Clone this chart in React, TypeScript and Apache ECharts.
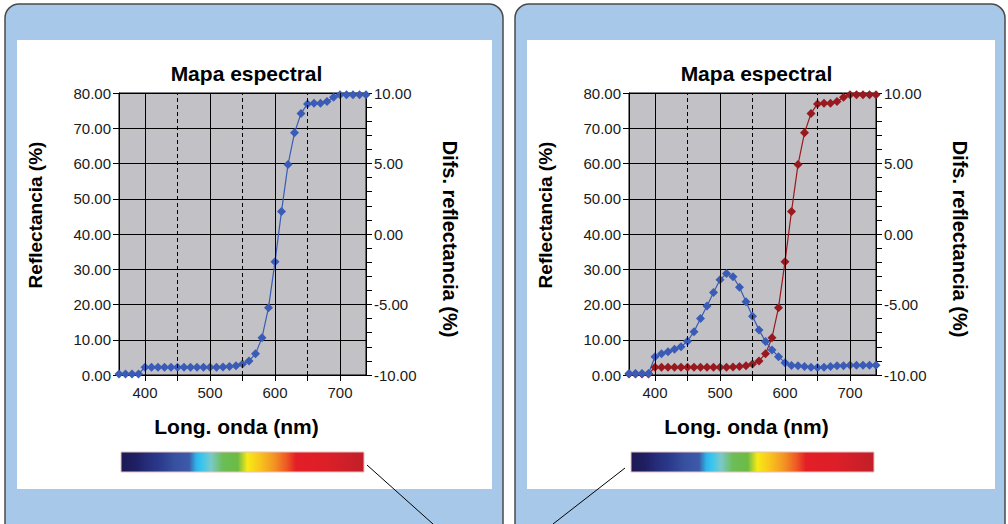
import React, { useEffect, useRef } from "react";
import * as echarts from "echarts";

const WAVELENGTHS = [360, 370, 380, 390, 400, 410, 420, 430, 440, 450, 460, 470, 480, 490, 500, 510, 520, 530, 540, 550, 560, 570, 580, 590, 600, 610, 620, 630, 640, 650, 660, 670, 680, 690, 700, 710, 720, 730, 740];
const REFERENCE = [0.3, 0.3, 0.3, 0.3, 2.2, 2.2, 2.2, 2.2, 2.2, 2.2, 2.2, 2.2, 2.2, 2.2, 2.2, 2.2, 2.3, 2.4, 2.6, 3.1, 4.0, 6.0, 10.6, 19.1, 32.1, 46.4, 59.7, 68.7, 74.2, 76.9, 77.1, 77.1, 77.6, 78.8, 79.5, 79.5, 79.5, 79.5, 79.5];
const SAMPLE = [0.4, 0.4, 0.4, 0.4, 5.2, 6.0, 6.6, 7.3, 8.0, 9.6, 12.3, 16.0, 19.6, 23.4, 27.0, 28.8, 27.9, 24.9, 20.8, 16.7, 12.8, 9.5, 7.1, 5.2, 3.5, 2.7, 2.6, 2.4, 2.2, 2.1, 2.2, 2.4, 2.6, 2.6, 2.8, 2.8, 2.8, 2.8, 2.8];
const X_TICKS = [400, 450, 500, 550, 600, 650, 700];
const X_LABELS = [400, 500, 600, 700];
const SOLID_GRID_X = [400, 500, 600, 700];
const DASHED_GRID_X = [450, 550, 650];

const TITLE = "Mapa espectral";
const X_NAME = "Long. onda (nm)";
const Y_NAME = "Reflectancia (%)";
const Y2_NAME = "Difs. reflectancia (%)";

const FONT = "'Liberation Sans', Arial, Helvetica, sans-serif";
const BLUE = "#3a5cb6";
const RED = "#981a1e";

const GRIDS = [
  { left: 119, top: 93, width: 247, height: 282 },
  { left: 629, top: 93, width: 247, height: 282 },
];

const SPECTRUM = [
  [0.0, "#1b1a55"], [0.06, "#1f1f62"], [0.1, "#252b78"], [0.16, "#2b3a8c"],
  [0.22, "#37509f"], [0.28, "#3d5aa8"], [0.31, "#2fb4e8"], [0.33, "#35c5ef"],
  [0.37, "#7ac9c9"], [0.42, "#6cbd55"], [0.48, "#6bbb45"], [0.52, "#f7ea15"],
  [0.57, "#f8c61c"], [0.63, "#f39424"], [0.68, "#ee5a24"], [0.72, "#e41e26"],
  [0.85, "#dc1f28"], [1.0, "#c11f2a"],
];

function pairs(values: number[]) {
  return WAVELENGTHS.map((w, i) => [w, values[i]]);
}

export default function App() {
  const ref = useRef<HTMLDivElement>(null);
  useEffect(() => {
    if (!ref.current) return;
    const chart = echarts.init(ref.current, null, { renderer: "svg" });
    const labelStyle = { fontSize: 15, color: "#1a1a1a", fontFamily: FONT };
    const xAxes = GRIDS.map((_, gi) => ({
      gridIndex: gi,
      type: "value",
      min: 360,
      max: 740,
      axisLine: { show: true, onZero: false, lineStyle: { color: "#000", width: 1 } },
      axisTick: { show: true, length: 6, customValues: X_TICKS, lineStyle: { color: "#000" } },
      axisLabel: { ...labelStyle, margin: 10, customValues: X_LABELS },
      splitLine: { show: false },
    }));
    const yAxes: any[] = [];
    GRIDS.forEach((_, gi) => {
      yAxes.push({
        gridIndex: gi,
        type: "value",
        position: "left",
        min: 0,
        max: 80,
        interval: 10,
        axisLine: { show: true, lineStyle: { color: "#000" } },
        axisTick: { show: true, length: 6, lineStyle: { color: "#000" } },
        axisLabel: { ...labelStyle, margin: 8, formatter: (v: number) => v.toFixed(2) },
        splitLine: { show: true, lineStyle: { color: "#000", width: 1 } },
      });
      yAxes.push({
        gridIndex: gi,
        type: "value",
        position: "right",
        min: -10,
        max: 10,
        interval: 1,
        axisLine: { show: true, lineStyle: { color: "#000" } },
        axisTick: { show: true, length: 6, lineStyle: { color: "#000" } },
        axisLabel: {
          ...labelStyle,
          margin: 8,
          interval: 0,
          formatter: (v: number) => (Math.round(v) % 5 === 0 ? v.toFixed(2) : ""),
        },
        splitLine: { show: false },
      });
    });

    const gridLineSeries = (gi: number) => ({
      type: "line",
      xAxisIndex: gi,
      yAxisIndex: gi * 2,
      data: [],
      z: 1,
      silent: true,
      markLine: {
        silent: true,
        symbol: "none",
        animation: false,
        label: { show: false },
        data: [
          ...DASHED_GRID_X.map((x) => ({ xAxis: x, lineStyle: { color: "#000", width: 1, type: [4, 3] } })),
          ...SOLID_GRID_X.map((x) => ({ xAxis: x, lineStyle: { color: "#000", width: 1, type: "solid" } })),
        ],
      },
    });

    const lineSeries = (gi: number, values: number[], color: string, name: string) => ({
      name,
      type: "line",
      xAxisIndex: gi,
      yAxisIndex: gi * 2,
      data: pairs(values),
      symbol: "diamond",
      symbolSize: 9,
      z: 3,
      lineStyle: { color, width: 1.2 },
      itemStyle: { color },
    });

    const graphics: any[] = [];
    graphics.push({ type: "rect", z: -20, shape: { x: 5, y: 4, width: 498, height: 545, r: 14 }, style: { fill: "#a8c8e9", stroke: "#4a4a4a", lineWidth: 1.5 } });
    graphics.push({ type: "rect", z: -20, shape: { x: 515, y: 4, width: 490, height: 545, r: 14 }, style: { fill: "#a8c8e9", stroke: "#4a4a4a", lineWidth: 1.5 } });
    graphics.push({ type: "rect", z: -19, shape: { x: 17, y: 40, width: 475, height: 449 }, style: { fill: "#ffffff" } });
    graphics.push({ type: "rect", z: -19, shape: { x: 527, y: 40, width: 468, height: 449 }, style: { fill: "#ffffff" } });
    GRIDS.forEach((g) => {
      graphics.push({
        type: "rect",
        z: 5,
        shape: { x: g.left + 2, y: 452, width: g.width - 4, height: 20 },
        style: {
          fill: new echarts.graphic.LinearGradient(0, 0, 1, 0, SPECTRUM.map(([o, c]) => ({ offset: o as number, color: c as string }))),
          stroke: "#e6c2c2",
          lineWidth: 1,
        },
      });
      graphics.push({
        type: "text", z: 5, x: g.left - 84, y: 215, rotation: Math.PI / 2,
        style: { text: Y_NAME, font: `bold 19px ${FONT}`, fill: "#000", textAlign: "center", textVerticalAlign: "middle" },
      });
      graphics.push({
        type: "text", z: 5, x: g.left + g.width + 84, y: 239, rotation: -Math.PI / 2,
        style: { text: Y2_NAME, font: `bold 20px ${FONT}`, fill: "#000", textAlign: "center", textVerticalAlign: "middle" },
      });
      graphics.push({
        type: "text", z: 5, x: g.left + g.width / 2 - 6, y: 426,
        style: { text: X_NAME, font: `bold 21px ${FONT}`, fill: "#000", textAlign: "center", textVerticalAlign: "middle" },
      });
    });
    graphics.push({ type: "line", z: 6, shape: { x1: 367, y1: 465, x2: 433, y2: 524 }, style: { stroke: "#000", lineWidth: 1 } });
    graphics.push({ type: "line", z: 6, shape: { x1: 625, y1: 468, x2: 553, y2: 524 }, style: { stroke: "#000", lineWidth: 1 } });

    chart.setOption({
      animation: false,
      backgroundColor: "#ffffff",
      title: GRIDS.map((g) => ({
        text: TITLE,
        left: g.left + g.width / 2 - 1,
        top: 58,
        textAlign: "center",
        textStyle: { fontSize: 21, fontWeight: "bold", color: "#000", fontFamily: FONT },
      })),
      grid: GRIDS.map((g) => ({
        ...g,
        show: true,
        backgroundColor: "#c2c1c6",
        borderColor: "#000",
        borderWidth: 1,
        containLabel: false,
      })),
      xAxis: xAxes,
      yAxis: yAxes,
      graphic: graphics,
      series: [
        gridLineSeries(0),
        gridLineSeries(1),
        lineSeries(0, REFERENCE, BLUE, "Referencia"),
        lineSeries(1, REFERENCE, RED, "Referencia"),
        lineSeries(1, SAMPLE, BLUE, "Muestra"),
      ],
    });
    return () => chart.dispose();
  }, []);
  return (
    <div
      ref={ref}
      style={{ position: "fixed", left: 0, top: 0, width: 1008, height: 524, background: "#fff" }}
    />
  );
}
